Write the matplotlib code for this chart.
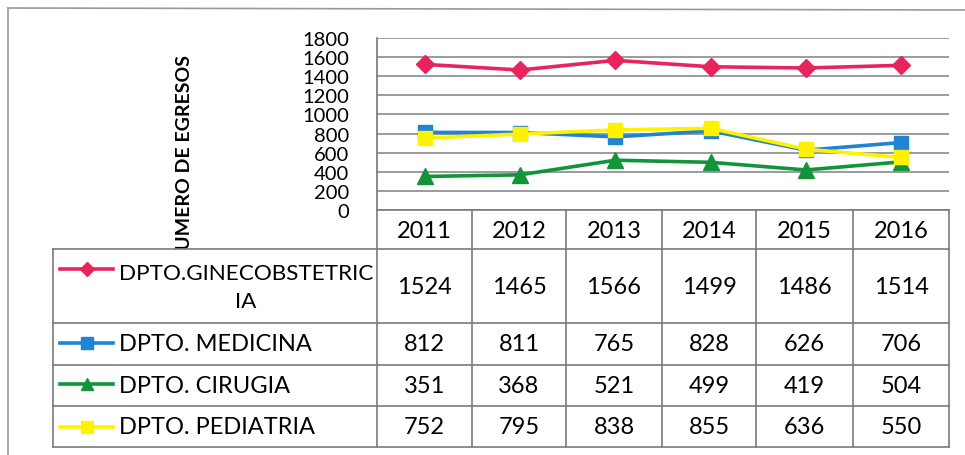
import numpy as np
import matplotlib
matplotlib.use("Agg")
import matplotlib.pyplot as plt

plt.rcParams['font.family'] = ['Lato', 'DejaVu Sans']

years = ["2011", "2012", "2013", "2014", "2015", "2016"]
series_names = ["DPTO.GINECOBSTETRIC\nIA", "DPTO. MEDICINA", "DPTO. CIRUGIA", "DPTO. PEDIATRIA"]
gineco = [1524, 1465, 1566, 1499, 1486, 1514]
medicina = [812, 811, 765, 828, 626, 706]
cirugia = [351, 368, 521, 499, 419, 504]
pediatria = [752, 795, 838, 855, 636, 550]
yticks = [0, 200, 400, 600, 800, 1000, 1200, 1400, 1600, 1800]

all_series = [gineco, medicina, cirugia, pediatria]
colors = ["#E8245E", "#1F84D4", "#12943A", "#FFF200"]
markers = ["D", "s", "^", "s"]
msizes = [9, 10, 11, 10]

W, H = 965, 456
fig = plt.figure(figsize=(W / 100, H / 100), dpi=100)

# plot area in pixel coords
x0, x1 = 377, 949
y_top, y_zero = 39, 211
ax = fig.add_axes([x0 / W, 1 - y_zero / H, (x1 - x0) / W, (y_zero - y_top) / H])
xs = np.arange(len(years))
for vals, c, m, ms in zip(all_series, colors, markers, msizes):
    ax.plot(xs, vals, color=c, lw=2.6, marker=m, markersize=ms, zorder=3)
ax.set_xlim(-0.5, len(years) - 0.5)
ax.set_ylim(0, 1800)
ax.set_yticks(yticks)
ax.set_yticklabels([str(t) for t in yticks], fontsize=14.5)
ax.set_xticks([])
ax.tick_params(axis='y', length=0, pad=20)
ax.yaxis.grid(True, color="#8a8a8a", lw=1.2)
ax.set_axisbelow(True)
for s in ["top", "right", "bottom"]:
    ax.spines[s].set_visible(False)
ax.spines["left"].set_color("#777777")
ax.spines["left"].set_linewidth(1.2)

# overlay in pixel coords for table, frame and label
ov = fig.add_axes([0, 0, 1, 1], zorder=5)
ov.set_xlim(0, W)
ov.set_ylim(H, 0)
ov.axis("off")
ov.patch.set_alpha(0)

lc = "#7a7a7a"
# outer frame
ov.plot([8, 8], [9, H], color="#999999", lw=1.2)
ov.plot([8, W], [9, 11], color="#999999", lw=1.2)

ov.text(184, 160, "NUMERO DE EGRESOS", rotation=90, ha="center", va="center",
        fontsize=14, fontweight="bold", zorder=1)

# table
col_edges = [377, 472, 566, 662, 756, 853, 949]
row_edges = [250, 324, 366, 407, 448]
leg_left = 53
ov.fill_between([leg_left, 377], 250, 448, color="white", zorder=2)
ov.plot([377, 949], [211, 211], color=lc, lw=1.2, zorder=3)
for y in row_edges:
    ov.plot([leg_left, 949], [y, y], color=lc, lw=1.2, zorder=3)
ov.plot([leg_left, leg_left], [250, 448], color=lc, lw=1.2, zorder=3)
for x in col_edges:
    ov.plot([x, x], [211, 448], color=lc, lw=1.2, zorder=3)

fs = 17
centers = [(col_edges[i] + col_edges[i + 1]) / 2 for i in range(len(years))]
for cx, yr in zip(centers, years):
    ov.text(cx, 232, yr, ha="center", va="center", fontsize=fs, zorder=4)

row_mid = [288, 345, 387, 428]
marker_y = [270, 344, 385, 428]
leg_ms = [7, 8, 9, 8]
for r, (name, vals, c, m, ms) in enumerate(zip(series_names, all_series, colors, markers, leg_ms)):
    ov.plot([60, 113], [marker_y[r], marker_y[r]], color=c, lw=2.6, zorder=4)
    ov.plot([86.5], [marker_y[r]], color=c, marker=m, markersize=ms, zorder=4)
    if r == 0:
        ov.text(246, 288, name, ha="center", va="center", fontsize=16.2,
                linespacing=1.45, zorder=4)
    else:
        ov.text(119, row_mid[r], name, ha="left", va="center", fontsize=fs, zorder=4)
    for cx, v in zip(centers, vals):
        ov.text(cx, row_mid[r], str(v), ha="center", va="center", fontsize=fs, zorder=4)

fig.savefig("out.png", dpi=100)
